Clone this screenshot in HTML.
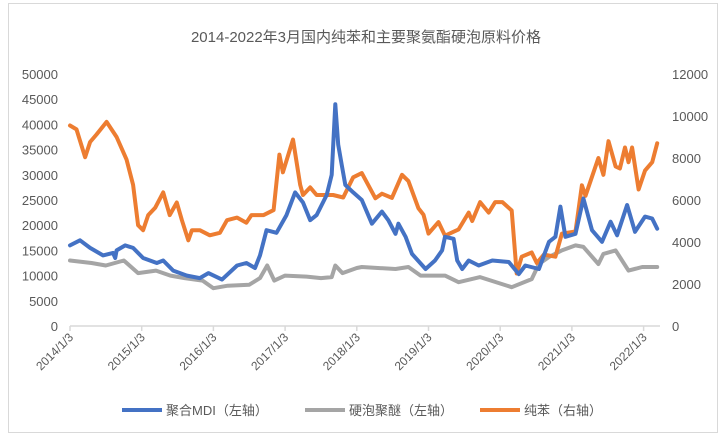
<!DOCTYPE html>
<html><head><meta charset="utf-8"><style>
body{margin:0;background:#fff;font-family:"Liberation Sans","Noto Sans CJK SC",sans-serif;}
svg text{font-family:"Liberation Sans","Noto Sans CJK SC",sans-serif;}
</style></head><body>
<svg id="chart" width="724" height="436" xmlns="http://www.w3.org/2000/svg">
<rect x="8.5" y="3.5" width="709" height="429" fill="#fff" stroke="#d9d9d9"/>
<text x="366" y="42" text-anchor="middle" font-size="15" fill="#595959">2014-2022年3月国内纯苯和主要聚氨酯硬泡原料价格</text>
<g id="axes"></g>
<g id="series"></g>
<g font-size="13" fill="#595959">
<line x1="122" y1="410" x2="162" y2="410" stroke="#4472C4" stroke-width="4"/>
<text x="166" y="415">聚合MDI（左轴）</text>
<line x1="305" y1="410" x2="345" y2="410" stroke="#A5A5A5" stroke-width="4"/>
<text x="349" y="415">硬泡聚醚（左轴）</text>
<line x1="480" y1="410" x2="520" y2="410" stroke="#ED7D31" stroke-width="4"/>
<text x="524" y="415">纯苯（右轴）</text>
</g>
</svg>
<script>
const leftTicks=[0,5000,10000,15000,20000,25000,30000,35000,40000,45000,50000];
const rightTicks=[0,2000,4000,6000,8000,10000,12000];
const yearLabels=["2014/1/3","2015/1/3","2016/1/3","2017/1/3","2018/1/3","2019/1/3","2020/1/3","2021/1/3","2022/1/3"];
const mdiDates=[2014.00,2014.14,2014.28,2014.46,2014.60,2014.63,2014.65,2014.77,2014.88,2015.02,2015.21,2015.30,2015.44,2015.63,2015.81,2015.93,2016.12,2016.33,2016.46,2016.58,2016.65,2016.74,2016.88,2017.02,2017.14,2017.25,2017.35,2017.44,2017.58,2017.65,2017.70,2017.74,2017.79,2017.84,2017.95,2018.07,2018.21,2018.35,2018.44,2018.54,2018.58,2018.68,2018.77,2018.96,2019.09,2019.19,2019.23,2019.35,2019.40,2019.47,2019.56,2019.70,2019.89,2020.12,2020.26,2020.35,2020.54,2020.68,2020.77,2020.84,2020.91,2021.05,2021.16,2021.28,2021.42,2021.54,2021.63,2021.77,2021.88,2022.02,2022.12,2022.19];
const mdiValues=[16000,17000,15500,14000,14500,13500,15000,16000,15500,13500,12500,13000,11000,10000,9500,10500,9200,12000,12500,11500,14000,19000,18500,22000,26500,24500,21000,22000,26000,30000,44000,36000,32000,28000,26500,25000,20300,22700,21000,18300,20300,17700,14300,11300,13000,15000,17700,17300,13000,11300,13000,12000,13000,12700,10300,12000,11300,16700,17700,23700,17700,18300,25300,19000,16700,20700,18000,24000,18700,21700,21300,19300];
const polyDates=[2014.00,2014.30,2014.50,2014.75,2014.95,2015.20,2015.40,2015.60,2015.85,2016.00,2016.20,2016.50,2016.65,2016.75,2016.85,2017.00,2017.30,2017.50,2017.65,2017.70,2017.80,2018.00,2018.07,2018.54,2018.72,2018.89,2019.23,2019.42,2019.72,2020.16,2020.44,2020.54,2020.68,2020.86,2021.05,2021.16,2021.37,2021.44,2021.61,2021.79,2021.98,2022.19];
const polyValues=[13000,12500,12000,13000,10500,11000,10000,9500,9000,7500,8000,8200,9500,12000,9000,10000,9800,9500,9700,12000,10500,11500,11700,11300,11700,10000,10000,8700,9700,7700,9300,12300,13700,15000,16000,15700,12300,14300,15000,11000,11700,11700];
const bzDates=[2014.00,2014.09,2014.21,2014.28,2014.37,2014.51,2014.65,2014.79,2014.88,2014.95,2015.02,2015.09,2015.19,2015.30,2015.39,2015.49,2015.56,2015.65,2015.70,2015.81,2015.95,2016.09,2016.19,2016.33,2016.46,2016.53,2016.70,2016.84,2016.92,2016.97,2017.11,2017.21,2017.25,2017.35,2017.44,2017.67,2017.81,2017.95,2018.07,2018.26,2018.35,2018.49,2018.63,2018.72,2018.86,2018.93,2019.00,2019.14,2019.23,2019.42,2019.56,2019.61,2019.72,2019.84,2019.93,2020.03,2020.16,2020.23,2020.30,2020.44,2020.51,2020.61,2020.77,2020.86,2021.05,2021.14,2021.19,2021.37,2021.44,2021.51,2021.61,2021.67,2021.74,2021.79,2021.84,2021.93,2022.02,2022.12,2022.19];
const bzValues=[9550,9360,8040,8760,9120,9720,9000,7920,6720,4800,4560,5280,5640,6360,5280,5880,5040,4080,4560,4560,4320,4440,5040,5160,4920,5280,5280,5520,8160,7320,8880,6720,6240,6600,6240,6240,6120,7080,7280,6080,6300,6100,7200,6900,5600,5300,4400,4950,4300,4600,5400,5000,5900,5400,5900,5900,5500,2500,3300,3500,3000,3400,3300,4400,4500,6700,6200,8000,7200,8800,7600,7500,8500,7800,8500,6500,7400,7800,8700];

const NS="http://www.w3.org/2000/svg";
const X0=70,YR=71.7,Y0=326,H=252;
const xs=d=>X0+(d-2014)*YR;
const yl=v=>Y0-v/50000*H;
const yr=v=>Y0-v/12000*H;
function mk(tag,attrs,parent,text){const e=document.createElementNS(NS,tag);for(const k in attrs)e.setAttribute(k,attrs[k]);if(text!==undefined)e.textContent=text;parent.appendChild(e);return e;}
const axes=document.getElementById('axes');
leftTicks.forEach(v=>{const t=mk('text',{x:58,y:yl(v)+5,'text-anchor':'end','font-size':13,fill:'#595959'},axes,String(v));

});
rightTicks.forEach(v=>{const t=mk('text',{x:672,y:yr(v)+5,'font-size':13,fill:'#595959'},axes,String(v));

});
const ax=mk('line',{x1:X0,y1:Y0,x2:660,y2:Y0,stroke:'#d9d9d9','stroke-width':1.5},axes);


yearLabels.forEach((s,i)=>{const x=xs(2014+i);
const tk=mk('line',{x1:x,y1:Y0,x2:x,y2:Y0+5,stroke:'#d9d9d9','stroke-width':1.5},axes);


const t=mk('text',{x:x+4,y:Y0+12,'text-anchor':'end','font-size':12,fill:'#595959',transform:`rotate(-45 ${x+4} ${Y0+12})`},axes,s);

});
const ser=document.getElementById('series');
function line(dates,vals,yf,color,name){const d=dates.map((t,i)=>(i?'L':'M')+xs(t).toFixed(1)+','+yf(vals[i]).toFixed(1)).join('');
const p=mk('path',{d:d,fill:'none',stroke:color,'stroke-width':4,'stroke-linejoin':'round','stroke-linecap':'round'},ser);

}
line(polyDates,polyValues,yl,'#A5A5A5','polyether-line');
line(bzDates,bzValues,yr,'#ED7D31','benzene-line');
line(mdiDates,mdiValues,yl,'#4472C4','mdi-line');
</script>
</body></html>
